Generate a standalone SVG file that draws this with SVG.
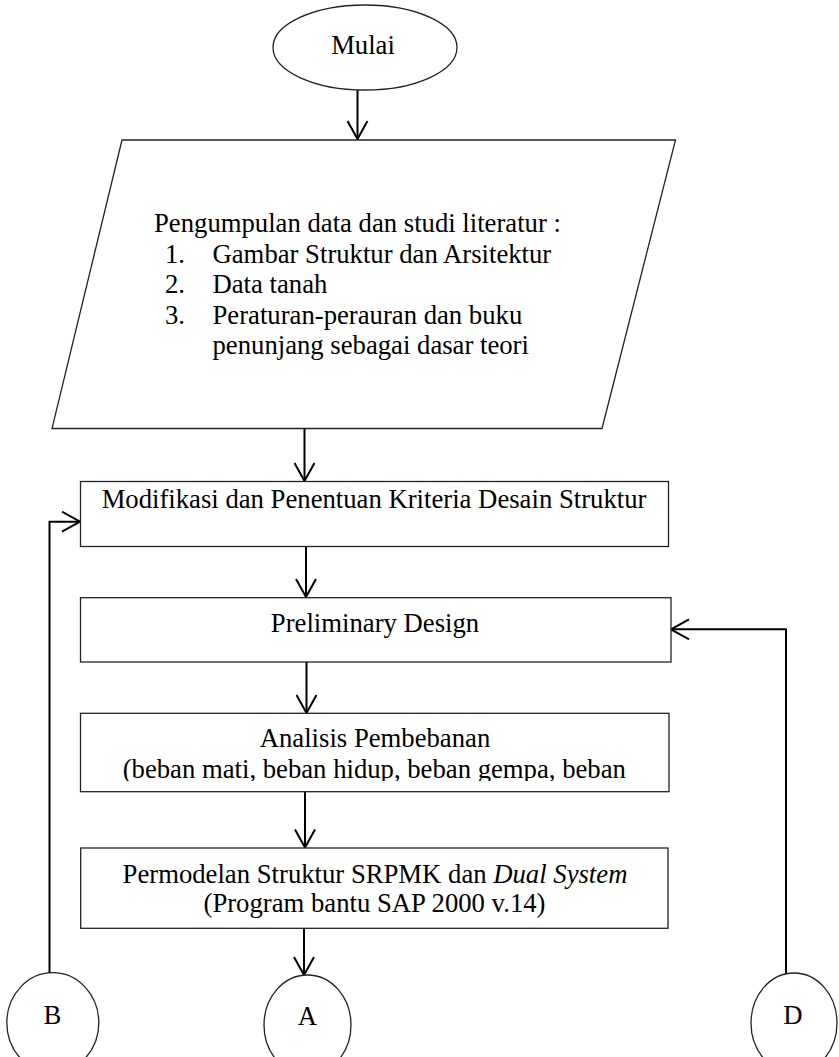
<svg xmlns="http://www.w3.org/2000/svg" width="839" height="1057" viewBox="0 0 839 1057">
  <style>
    .shape { fill: #ffffff; stroke: #222222; stroke-width: 1.3; }
    .conn { fill: none; stroke: #000000; stroke-width: 2; }
    .t { font-family: "Liberation Serif", "Times New Roman", serif; font-size: 26.7px; fill: #000000; }
    .c { text-anchor: middle; }
  </style>
  <defs>
    <marker id="arr" viewBox="0 0 20 22" refX="19" refY="11" markerWidth="20" markerHeight="22" markerUnits="userSpaceOnUse" orient="auto">
      <path d="M1,1 L19,11 L1,21" fill="none" stroke="#000000" stroke-width="2"/>
    </marker>
    <clipPath id="clipA">
      <rect x="81" y="714" width="588" height="67"/>
    </clipPath>
  </defs>

  <g id="connectors">
    <path class="conn" d="M357.5,90 V139" marker-end="url(#arr)"/>
    <path class="conn" d="M304.5,429 V481" marker-end="url(#arr)"/>
    <path class="conn" d="M306,547 V597" marker-end="url(#arr)"/>
    <path class="conn" d="M306.5,662 V713" marker-end="url(#arr)"/>
    <path class="conn" d="M305,792 V847.5" marker-end="url(#arr)"/>
    <path class="conn" d="M304,928 V975" marker-end="url(#arr)"/>
    <path class="conn" d="M49.5,973 V521.7 H80" marker-end="url(#arr)"/>
    <path class="conn" d="M786,975 V629.3 H671" marker-end="url(#arr)"/>
  </g>

  <g id="mulai">
    <ellipse class="shape" cx="365" cy="47.5" rx="92" ry="42.5"/>
    <text class="t c" x="363" y="53.5">Mulai</text>
  </g>

  <g id="pengumpulan">
    <polygon class="shape" points="122,140 675.5,140 602,428.5 52,428.5"/>
    <text class="t" x="154" y="231.7">Pengumpulan data dan studi literatur :</text>
    <text class="t" x="165" y="262.7">1.</text>
    <text class="t" x="212.5" y="262.7">Gambar Struktur dan Arsitektur</text>
    <text class="t" x="165" y="293.3">2.</text>
    <text class="t" x="212.5" y="293.3">Data tanah</text>
    <text class="t" x="165" y="323.5">3.</text>
    <text class="t" x="212.5" y="323.5">Peraturan-perauran dan buku</text>
    <text class="t" x="212.5" y="353.5">penunjang sebagai dasar teori</text>
  </g>

  <g id="modifikasi">
    <rect class="shape" x="80.5" y="481.5" width="588" height="65"/>
    <text class="t c" x="374" y="508.3">Modifikasi dan Penentuan Kriteria Desain Struktur</text>
  </g>

  <g id="preliminary">
    <rect class="shape" x="80.5" y="597.7" width="590.5" height="64.3"/>
    <text class="t c" x="375" y="631.7">Preliminary Design</text>
  </g>

  <g id="analisis">
    <rect class="shape" x="80.5" y="713.3" width="588.5" height="78.4"/>
    <g clip-path="url(#clipA)">
      <text class="t c" x="375" y="746.7">Analisis Pembebanan</text>
      <text class="t" x="122.7" y="777.5">(beban mati, beban hidup, beban gempa, beban</text>
    </g>
  </g>

  <g id="permodelan">
    <rect class="shape" x="80.7" y="848" width="587.3" height="80.3"/>
    <text class="t c" x="375" y="882.7">Permodelan Struktur SRPMK dan <tspan font-style="italic">Dual System</tspan></text>
    <text class="t c" x="374.5" y="911.7">(Program bantu SAP 2000 v.14)</text>
  </g>

  <g id="conn-b">
    <ellipse class="shape" cx="52.8" cy="1022.7" rx="46" ry="50"/>
    <text class="t c" x="52.5" y="1023.5">B</text>
  </g>

  <g id="conn-a">
    <ellipse class="shape" cx="307.5" cy="1025" rx="43.5" ry="50"/>
    <text class="t c" x="307.5" y="1025">A</text>
  </g>

  <g id="conn-d">
    <ellipse class="shape" cx="794" cy="1023" rx="43" ry="50"/>
    <text class="t c" x="793" y="1024">D</text>
  </g>
</svg>
